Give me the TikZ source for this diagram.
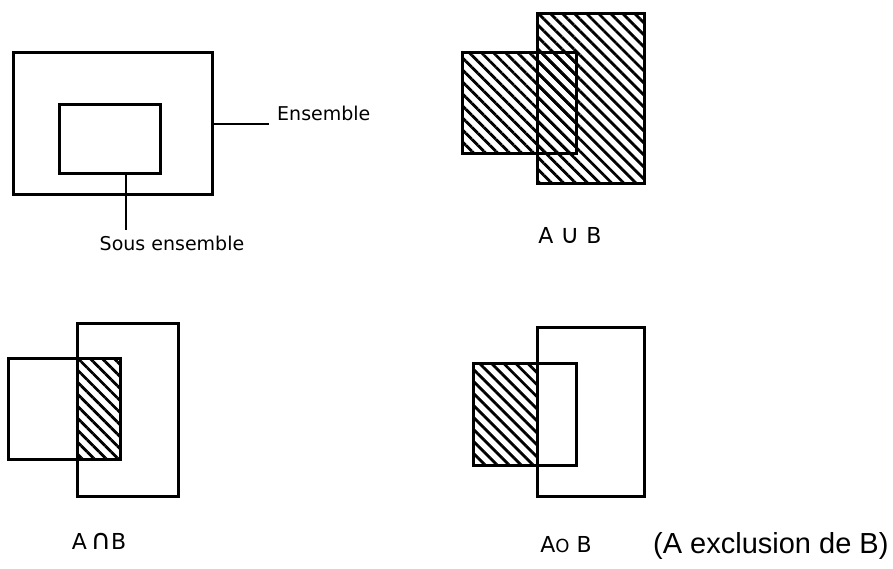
\documentclass[tikz,border=0pt]{standalone}
\usepackage{fontspec}
\setmainfont{DejaVu Sans}
\newfontfamily\arialfont{Liberation Sans}
\usetikzlibrary{patterns.meta}
\tikzset{
  box/.style={draw=black, line width=3pt},
  thinbox/.style={draw=black, line width=3pt},
  hatch/.style={pattern={Lines[angle=-45, distance=8.5pt, line width=2.8pt]}, pattern color=black},
  lead/.style={draw=black, line width=2.2pt},
  lbl/.style={inner sep=0pt, font=\fontsize{19}{22}\selectfont},
  setlbl/.style={inner sep=0pt, font=\fontsize{22}{26}\selectfont},
}
\begin{document}
\begin{tikzpicture}[x=1pt, y=-1pt]
\useasboundingbox (0,0) rectangle (893,569);
% ---- top left: set and subset
\draw[box] (13,53) rectangle (212,195);
\draw[box] (59,105) rectangle (160,174);
\coordinate (ensA) at (212,124);
\coordinate (ensB) at (269,124);
\node[lbl, anchor=west] (ens) at (277,113) {Ensemble};
\draw[lead] (ensA) -- (ensB);
\coordinate (sousA) at (126,174);
\coordinate (sousB) at (126,230);
\node[lbl] (sous) at (172,243) {Sous ensemble};
\draw[lead] (sousA) -- (sousB);
% ---- top right: union
\fill[hatch] (462,53) rectangle (576,154);
\fill[hatch] (537,14) rectangle (644,184);
\draw[box] (462,53) rectangle (576,154);
\draw[box] (537,14) rectangle (644,184);
\node[setlbl] (union) at (570,235) {A {\fontsize{26}{26}\selectfont ∪} B};
% ---- bottom left: intersection
\fill[hatch] (77,358) rectangle (120,459);
\draw[thinbox] (8,358) rectangle (120,459);
\draw[thinbox] (77,323) rectangle (178,496);
\node[setlbl] (inter) at (99,541) {A\,{\fontsize{28}{28}\selectfont ∩}B};
% ---- bottom right: exclusion
\fill[hatch] (473,363) rectangle (537,465);
\draw[thinbox] (473,363) rectangle (576,465);
\draw[thinbox] (537,327) rectangle (644,496);
\node[setlbl] (excl) at (566,545) {A{\fontsize{18}{18}\selectfont O} B};
\node[inner sep=0pt, anchor=west, font=\arialfont\fontsize{29}{32}\selectfont] (excltxt) at (653,546) {(A exclusion de B)};
\end{tikzpicture}
\end{document}
